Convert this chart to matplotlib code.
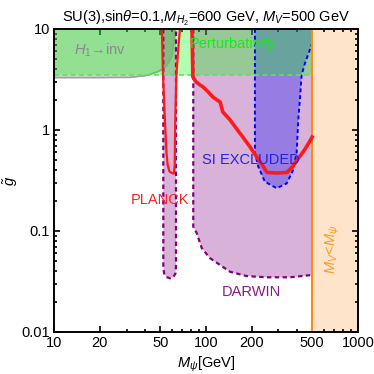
import matplotlib
matplotlib.use("Agg")
import matplotlib.pyplot as plt
from matplotlib.ticker import FixedLocator, NullFormatter

plt.rcParams['font.family'] = ['Liberation Sans', 'DejaVu Sans']
plt.rcParams['mathtext.fontset'] = 'custom'
plt.rcParams['mathtext.rm'] = 'Liberation Sans'
plt.rcParams['mathtext.it'] = 'Liberation Sans:italic'
plt.rcParams['mathtext.bf'] = 'Liberation Sans:bold'

# --- data ---
g_pert = 3.5          # perturbativity bound on g~
m_vector = 500        # M_V, kinematic limit

# H1 -> invisible boundary
h1inv_m = [10, 20, 31.6, 40, 47.6, 52, 55.3, 58, 59.7, 61.5, 62.3]
h1inv_g = [3.3, 3.3, 3.32, 3.45, 3.75, 4.0, 4.4, 4.9, 5.5, 7.4, 10]

# Planck relic curve, H1 resonance branch
planck_res_m = [51.3, 52.1, 53.7, 55.0, 56.0, 57.5, 59.5, 61.5, 62.3, 62.5, 62.8, 63.9, 65.5, 67.4]
planck_res_g = [10, 3.5, 1.26, 0.59, 0.45, 0.39, 0.375, 0.37, 0.45, 0.7, 1.26, 3.5, 6, 10]

# Planck relic curve, main branch
planck_m = [80.9, 82, 86, 91.4, 95.6, 103, 111, 124, 129, 144, 167, 175, 195, 216,
            235, 252, 293, 341, 370, 397, 450, 500]
planck_g = [10, 3.35, 3.0, 2.79, 2.67, 2.4, 2.12, 1.89, 1.51, 1.26, 0.93, 0.85, 0.68, 0.54,
            0.45, 0.38, 0.375, 0.38, 0.43, 0.50, 0.65, 0.85]

# DARWIN reach, resonance band
darwin_res_m = [52.4, 52.4, 53.0, 55, 58, 61, 63.0, 63.5, 63.5]
darwin_res_g = [10, 0.045, 0.038, 0.035, 0.034, 0.035, 0.038, 0.045, 10]

# DARWIN reach, main region
darwin_m = [82.5, 82.5, 82.5, 86.9, 93.7, 106, 124, 144, 185, 251, 357, 500]
darwin_g = [10, 0.15, 0.11, 0.0955, 0.068, 0.054, 0.046, 0.0395, 0.0358, 0.0348, 0.0348, 0.0367]

# SI direct detection excluded region
si_m = [210, 210, 221, 244, 292, 340, 375, 395, 405, 415, 426, 448, 500, 500]
si_g = [10, 0.59, 0.434, 0.308, 0.265, 0.296, 0.402, 0.59, 1.26, 1.98, 3.5, 4.57, 7.2, 10]

x_ticks = [10, 20, 50, 100, 200, 500, 1000]
x_ticklabels = ['10', '20', '50', '100', '200', '500', '1000']
y_ticks = [0.01, 0.1, 1, 10]
y_ticklabels = ['0.01', '0.1', '1', '10']

xmin, xmax = 10, 1000
ymin, ymax = 0.01, 10

fs = 10.5

fig = plt.figure(figsize=(3.74, 3.74), dpi=100)
ax = fig.add_axes([0.1444, 0.1123, 0.8126, 0.8102])
ax.set_xscale('log')
ax.set_yscale('log')
ax.set_xlim(xmin, xmax)
ax.set_ylim(ymin, ymax)

purple = '#800080'

# M_V < M_psi region
ax.axvspan(m_vector, xmax, color='#ffe4cc', zorder=1, lw=0)
ax.axvline(m_vector, color='#ff8c10', lw=1.5, zorder=6)

# DARWIN regions
ax.fill(darwin_res_m, darwin_res_g, color=purple, alpha=0.3, lw=0, zorder=2)
ax.fill(darwin_m + [500], darwin_g + [10], color=purple, alpha=0.3, lw=0, zorder=2)
ax.plot(darwin_res_m, darwin_res_g, color=purple, ls=(0, (2, 1.5)), lw=1.6, zorder=5)
ax.plot(darwin_m, darwin_g, color=purple, ls=(0, (2, 1.5)), lw=1.6, zorder=5)

# SI excluded
ax.fill(si_m, si_g, color='blue', alpha=0.3, lw=0, zorder=3)
ax.plot(si_m[:-1], si_g[:-1], color='blue', ls=(0, (2, 1.5)), lw=1.4, zorder=5)

# H1 -> inv
ax.fill_between(h1inv_m, h1inv_g, ymax, color='#707070', alpha=0.3, lw=0, zorder=3)
ax.plot(h1inv_m, h1inv_g, color='#a0a0a0', lw=1.2, zorder=4)

# perturbativity
ax.fill_between([xmin, m_vector], g_pert, ymax, color='#00ff00', alpha=0.3, lw=0, zorder=4)
ax.plot([xmin, m_vector], [g_pert, g_pert], color='#66dd66', ls=(0, (3, 2)), lw=1.2, zorder=5)

# Planck
ax.plot(planck_res_m, planck_res_g, color='#ff1a1a', lw=1.6, zorder=7)
ax.plot(planck_m, planck_g, color='#ff1a1a', lw=2.6, zorder=7)

# labels
ax.text(20.1, 6.2, r'$H_1$→inv', color='#8a8a8a', fontsize=fs, ha='center', va='center', zorder=8)
ax.text(151, 7.1, 'Perturbativity', color='#11ee11', fontsize=fs, ha='center', va='center', zorder=8)
ax.text(198, 0.505, 'SI EXCLUDED', color='#2222ee', fontsize=fs, ha='center', va='center', zorder=8)
ax.text(49.8, 0.203, 'PLANCK', color='#ff2020', fontsize=fs, ha='center', va='center', zorder=8)
ax.text(198, 0.0249, 'DARWIN', color='#8b1a8b', fontsize=fs, ha='center', va='center', zorder=8)
ax.text(685, 0.066, r'$M_V\!<\!M_\psi$', color='#ff9922', fontsize=fs, rotation=90,
        ha='center', va='center', zorder=8)

# axes styling
ax.xaxis.set_major_locator(FixedLocator(x_ticks))
ax.set_xticklabels(x_ticklabels)
ax.yaxis.set_major_locator(FixedLocator(y_ticks))
ax.set_yticklabels(y_ticklabels)
ax.xaxis.set_minor_formatter(NullFormatter())
ax.yaxis.set_minor_formatter(NullFormatter())
ax.tick_params(which='both', direction='in', top=True, right=True, labelsize=fs, width=1.2)
ax.tick_params(which='major', length=4, pad=3)
ax.tick_params(which='minor', length=2.5)
for s in ax.spines.values():
    s.set_linewidth(1.4)
    s.set_zorder(10)

ax.set_xlabel(r'$M_\psi$[GeV]', fontsize=fs, labelpad=3)
fig.text(11 / 374, 1 - 181 / 374, r'$\tilde{g}$', fontsize=fs, rotation=90,
         ha='center', va='center')
ax.set_title(r'SU(3),sin$\theta$=0.1,$M_{H_2}$=600 GeV, $M_V$=500 GeV', fontsize=fs, pad=5)

fig.savefig('out.png', dpi=100)
